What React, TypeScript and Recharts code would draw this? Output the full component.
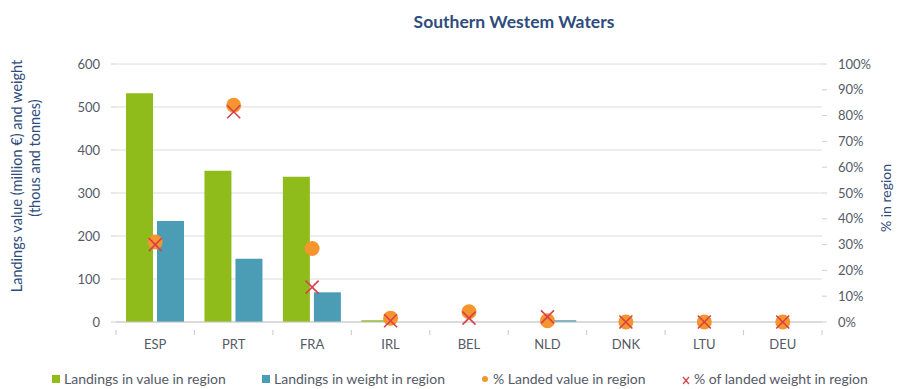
import {
  Bar,
  CartesianGrid,
  ComposedChart,
  Line,
  XAxis,
  YAxis,
} from "recharts";

const COUNTRIES = ["ESP", "PRT", "FRA", "IRL", "BEL", "NLD", "DNK", "LTU", "DEU"];
const VALUE_LANDED = [532, 352, 338, 4, 0, 0, 0, 0, 0];
const WEIGHT_LANDED = [235, 147, 69, 0, 0, 4, 0, 0, 0];
const PCT_VALUE = [0.31, 0.84, 0.285, 0.015, 0.04, 0.005, 0, 0, 0];
const PCT_WEIGHT = [0.3, 0.815, 0.135, 0.005, 0.015, 0.02, 0, 0, 0];
const LEFT_TICKS = [0, 100, 200, 300, 400, 500, 600];
const RIGHT_TICKS = [0, 0.1, 0.2, 0.3, 0.4, 0.5, 0.6, 0.7, 0.8, 0.9, 1];

const W = 898;
const H = 389;
const FONT = "Lato, 'Open Sans', sans-serif";
const GREEN = "#8fbc1b";
const TEAL = "#4a9db4";
const ORANGE = "#f5952e";
const RED = "#d8404a";
const NAVY = "#2f4d7c";
const GRAY_TXT = "#555a66";

const data = COUNTRIES.map((c, i) => ({
  country: c,
  value: VALUE_LANDED[i],
  weight: WEIGHT_LANDED[i],
  pctValue: PCT_VALUE[i],
  pctWeight: PCT_WEIGHT[i],
}));

const plotLeft = 116;
const plotRight = 822;
const band = (plotRight - plotLeft) / COUNTRIES.length;

function CountryTick(props: any) {
  const { x, y, payload, index } = props;
  return (
    <g>
      <line x1={x - band / 2} y1={y} x2={x - band / 2} y2={y + 5} stroke="#c8c8c8" />
      {index === COUNTRIES.length - 1 && (
        <line x1={x + band / 2} y1={y} x2={x + band / 2} y2={y + 5} stroke="#c8c8c8" />
      )}
      <text x={x} y={y + 19} textAnchor="middle" fill={GRAY_TXT} fontSize={13} fontFamily={FONT}>
        {payload.value}
      </text>
    </g>
  );
}

function OrangeDot(props: any) {
  const { cx, cy } = props;
  if (cx == null || cy == null) return <g />;
  return <circle cx={cx} cy={cy} r={7.5} fill={ORANGE} />;
}

function RedCross(props: any) {
  const { cx, cy } = props;
  if (cx == null || cy == null) return <g />;
  const s = 6.5;
  return (
    <g stroke={RED} strokeWidth={1.6}>
      <line x1={cx - s} y1={cy - s} x2={cx + s} y2={cy + s} />
      <line x1={cx - s} y1={cy + s} x2={cx + s} y2={cy - s} />
    </g>
  );
}

const legendItems = [
  { label: "Landings in value in region", kind: "square", color: GREEN, x: 52 },
  { label: "Landings in weight in region", kind: "square", color: TEAL, x: 262 },
  { label: "% Landed value in region", kind: "dot", color: ORANGE, x: 481 },
  { label: "% of landed weight in region", kind: "cross", color: RED, x: 682 },
];

export default function App() {
  return (
    <div style={{ position: "absolute", left: 0, top: 0, width: W, height: H, background: "#fff", fontFamily: FONT }}>
      <ComposedChart
        width={W}
        height={H}
        data={data}
        margin={{ top: 64, right: 0, bottom: 37, left: 0 }}
        barCategoryGap={10}
        barGap={4}
      >
        <CartesianGrid yAxisId="left" vertical={false} stroke="#dcdcdc" />
        <XAxis
          dataKey="country"
          axisLine={{ stroke: "#c8c8c8" }}
          tickLine={false}
          tick={<CountryTick />}
          interval={0}
          height={30}
        />
        <YAxis
          yAxisId="left"
          domain={[0, 600]}
          ticks={LEFT_TICKS}
          width={116}
          axisLine={false}
          tickLine={{ stroke: "#d0d0d0" }}
          tickSize={5}
          tickMargin={11}
          tick={{ fill: GRAY_TXT, fontSize: 13, fontFamily: FONT }}
        />
        <YAxis
          yAxisId="right"
          orientation="right"
          domain={[0, 1]}
          ticks={RIGHT_TICKS}
          width={76}
          axisLine={false}
          tickLine={{ stroke: "#d0d0d0" }}
          tickSize={5}
          tickMargin={11}
          tickFormatter={(v: number) => `${Math.round(v * 100)}%`}
          tick={{ fill: GRAY_TXT, fontSize: 13, fontFamily: FONT, textAnchor: "start" }}
        />
        <Bar yAxisId="left" dataKey="value" fill={GREEN} isAnimationActive={false} />
        <Bar yAxisId="left" dataKey="weight" fill={TEAL} isAnimationActive={false} />
        <Line
          yAxisId="right"
          dataKey="pctValue"
          stroke="none"
          dot={<OrangeDot />}
          activeDot={false}
          isAnimationActive={false}
        />
        <Line
          yAxisId="right"
          dataKey="pctWeight"
          stroke="none"
          dot={<RedCross />}
          activeDot={false}
          isAnimationActive={false}
        />
        <text x={514} y={28} textAnchor="middle" fill={NAVY} fontSize={17.5} fontWeight={700} fontFamily={FONT}>
          Southern Westem Waters
        </text>
        <text
          transform="translate(22,176) rotate(-90)"
          textAnchor="middle"
          fill={NAVY}
          fontSize={14.5}
          fontFamily={FONT}
        >
          Landings value (million €) and weight
        </text>
        <text
          transform="translate(40,158) rotate(-90)"
          textAnchor="middle"
          fill={NAVY}
          fontSize={14.5}
          fontFamily={FONT}
        >
          (thous and tonnes)
        </text>
        <text
          transform="translate(891,198) rotate(-90)"
          textAnchor="middle"
          fill={NAVY}
          fontSize={14}
          fontFamily={FONT}
        >
          % in region
        </text>
        {legendItems.map((it) => (
          <g key={it.label}>
            {it.kind === "square" && <rect x={it.x} y={375} width={8} height={8} fill={it.color} />}
            {it.kind === "dot" && <circle cx={it.x + 4} cy={379} r={3} fill={it.color} />}
            {it.kind === "cross" && (
              <g stroke={it.color} strokeWidth={1.2}>
                <line x1={it.x + 1} y1={377} x2={it.x + 7} y2={384} />
                <line x1={it.x + 1} y1={384} x2={it.x + 7} y2={377} />
              </g>
            )}
            <text x={it.x + 12} y={384} fill={GRAY_TXT} fontSize={14} fontFamily={FONT}>
              {it.label}
            </text>
          </g>
        ))}
      </ComposedChart>
    </div>
  );
}
